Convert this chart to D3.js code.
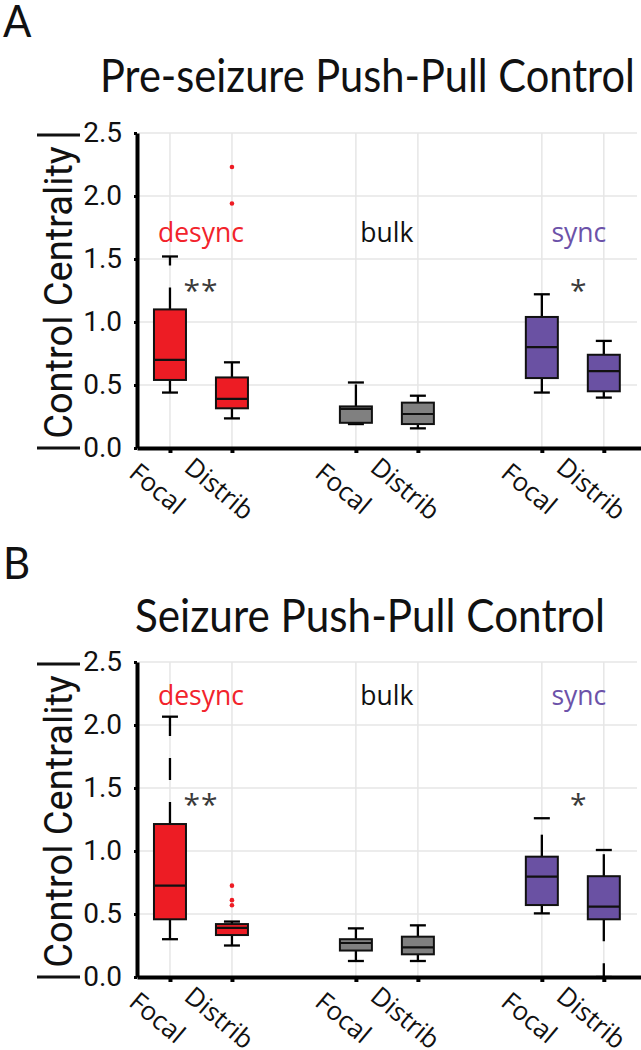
<!DOCTYPE html>
<html><head><meta charset="utf-8">
<script src="https://cdn.jsdelivr.net/npm/d3@7"></script>
<style>body{margin:0;background:#fff}</style>
</head><body><div id="chart"></div>
<script>
// ---------- data ----------
const categories = ["desync", "bulk", "sync"];
const groups = ["Focal", "Distrib"];
const yTicks = [0, 0.5, 1.0, 1.5, 2.0, 2.5];
const sigMarks = ["**", "", "*"];
// box order: desync-Focal, desync-Distrib, bulk-Focal, bulk-Distrib, sync-Focal, sync-Distrib
const preLow  = [0.44, 0.235, 0.19, 0.156, 0.44, 0.40];
const preQ1   = [0.54, 0.315, 0.20, 0.19, 0.555, 0.45];
const preMed  = [0.70, 0.39, 0.31, 0.27, 0.80, 0.61];
const preQ3   = [1.10, 0.56, 0.33, 0.36, 1.04, 0.74];
const preHigh = [1.52, 0.68, 0.52, 0.415, 1.22, 0.85];
const preOutliers = [[], [1.94, 2.23], [], [], [], []];

const szLow  = [0.30, 0.25, 0.127, 0.127, 0.505, 0.0];
const szQ1   = [0.458, 0.333, 0.21, 0.18, 0.571, 0.458];
const szMed  = [0.725, 0.39, 0.27, 0.235, 0.796, 0.558];
const szQ3   = [1.214, 0.42, 0.30, 0.32, 0.955, 0.80];
const szHigh = [2.066, 0.44, 0.386, 0.41, 1.26, 1.008];
const szOutliers = [[], [0.57, 0.61, 0.725], [], [], [], []];

const fillColors = ["#ed1c24", "#808080", "#6a51a3"];
const labelColors = ["#f2232b", "#111111", "#6c52a9"];

// ---------- drawing ----------
const W = 641, H = 1050;
const svg = d3.select("#chart").append("svg").attr("width", W).attr("height", H)
  .style("font-family", "Roboto, sans-serif");

const x = d3.scaleLinear().domain([0.468, 8.6]).range([137, 641]);
const slotOf = (ci, gi) => ci * 3 + gi + 1;

function fitText(sel, target, baseSize) {
  sel.style("font-size", baseSize + "px");
  const w = sel.node().getComputedTextLength();
  sel.style("font-size", (baseSize * target / w).toFixed(2) + "px");
}

function drawPanel(cfg) {
  const y = d3.scaleLinear().domain([0, 2.5]).range([cfg.yBottom, cfg.yTop]);
  const g = svg.append("g");

  // panel letter and title
  g.append("text").attr("transform", `translate(3,${cfg.letterBase}) scale(1,1.08)`)
    .style("font-family", "Lato, sans-serif").style("font-size", "42px").attr("fill", "#111")
    .text(cfg.letter);
  const t = g.append("text").attr("transform", `translate(${cfg.titleX},${cfg.titleBase}) scale(1,1.12)`)
    .style("font-family", "Lato, sans-serif").attr("fill", "#111")
    .text(cfg.title);
  fitText(t, cfg.titleW, 42);

  // grid
  const slots = [];
  categories.forEach((c, ci) => groups.forEach((gr, gi) => slots.push(slotOf(ci, gi))));
  g.append("g").selectAll("line").data(yTicks.filter(d => d > 0)).join("line")
    .attr("x1", 139).attr("x2", 637).attr("y1", d => y(d)).attr("y2", d => y(d))
    .attr("stroke", "#e6e6e6").attr("stroke-width", 1.5);
  g.append("g").selectAll("line").data(slots).join("line")
    .attr("x1", d => x(d)).attr("x2", d => x(d)).attr("y1", cfg.yTop).attr("y2", cfg.yBottom)
    .attr("stroke", "#e6e6e6").attr("stroke-width", 1.5);

  // boxes
  const boxes = [];
  categories.forEach((c, ci) => groups.forEach((gr, gi) => {
    const i = ci * 2 + gi;
    boxes.push({slot: slotOf(ci, gi), ci, low: cfg.low[i], q1: cfg.q1[i], med: cfg.med[i],
      q3: cfg.q3[i], high: cfg.high[i], out: cfg.out[i]});
  }));
  const bw = 32, cw = 16;
  const bg = g.append("g").selectAll("g").data(boxes).join("g");
  bg.append("line").attr("x1", d => x(d.slot)).attr("x2", d => x(d.slot))
    .attr("y1", d => y(d.q3)).attr("y2", d => y(d.high))
    .attr("stroke", "#000").attr("stroke-width", 2.3).attr("stroke-dasharray", "22,22");
  bg.append("line").attr("x1", d => x(d.slot)).attr("x2", d => x(d.slot))
    .attr("y1", d => y(d.q1)).attr("y2", d => y(d.low))
    .attr("stroke", "#000").attr("stroke-width", 2.3).attr("stroke-dasharray", "22,22");
  bg.append("line").attr("x1", d => x(d.slot) - cw / 2).attr("x2", d => x(d.slot) + cw / 2)
    .attr("y1", d => y(d.high)).attr("y2", d => y(d.high)).attr("stroke", "#000").attr("stroke-width", 2.3);
  bg.append("line").attr("x1", d => x(d.slot) - cw / 2).attr("x2", d => x(d.slot) + cw / 2)
    .attr("y1", d => y(d.low)).attr("y2", d => y(d.low)).attr("stroke", "#000").attr("stroke-width", 2.3);
  bg.append("rect").attr("x", d => x(d.slot) - bw / 2).attr("width", bw)
    .attr("y", d => y(d.q3)).attr("height", d => y(d.q1) - y(d.q3))
    .attr("fill", d => fillColors[d.ci]).attr("stroke", "#111").attr("stroke-width", 2);
  bg.append("line").attr("x1", d => x(d.slot) - bw / 2).attr("x2", d => x(d.slot) + bw / 2)
    .attr("y1", d => y(d.med)).attr("y2", d => y(d.med)).attr("stroke", "#111").attr("stroke-width", 2.2);
  bg.selectAll("circle").data(d => d.out.map(v => ({v, slot: d.slot}))).join("circle")
    .attr("cx", d => x(d.slot)).attr("cy", d => y(d.v)).attr("r", 2.3).attr("fill", "#ee1c24");

  // axes (drawn over the marks)
  const ya = g.append("g").attr("transform", `translate(137,0)`)
    .call(d3.axisLeft(y).tickValues(yTicks).tickFormat(d3.format(".1f")).tickSize(3).tickSizeOuter(0).tickPadding(12));
  ya.select(".domain").attr("stroke", "#000").attr("stroke-width", 4);
  ya.selectAll(".tick line").attr("stroke", "#000").attr("stroke-width", 3);
  ya.selectAll(".tick text").style("font-family", "Roboto, sans-serif").style("font-size", "28px").attr("fill", "#111");

  const xa = g.append("g").attr("transform", `translate(0,${cfg.yBottom})`)
    .call(d3.axisBottom(x).tickValues(slots).tickFormat("").tickSize(5).tickSizeOuter(0));
  xa.select(".domain").attr("stroke", "#000").attr("stroke-width", 4);
  xa.selectAll(".tick line").attr("stroke", "#000").attr("stroke-width", 4);

  // x labels
  const xl = [];
  categories.forEach((c, ci) => groups.forEach((gr, gi) => xl.push({slot: slotOf(ci, gi), label: gr})));
  g.append("g").selectAll("text").data(xl).join("text")
    .attr("transform", d => `translate(${x(d.slot) - 12},${cfg.yBottom + 40}) rotate(40)`)
    .attr("text-anchor", "middle").attr("dominant-baseline", "central")
    .style("font-family", "'Open Sans', sans-serif").style("font-size", "26px").attr("fill", "#111")
    .text(d => d.label);

  // y label with absolute-value bars
  const midY = (cfg.yTop + cfg.yBottom) / 2;
  g.append("text")
    .attr("transform", `translate(72,${midY + 2}) rotate(-90)`)
    .attr("text-anchor", "middle")
    .style("font-family", "Roboto, sans-serif").style("font-size", "38px").attr("fill", "#111")
    .text("Control Centrality");
  g.append("g").selectAll("line").data([cfg.yTop + 2, cfg.yBottom]).join("line")
    .attr("x1", 37).attr("x2", 80).attr("y1", d => d).attr("y2", d => d)
    .attr("stroke", "#111").attr("stroke-width", 3);

  // category labels
  g.append("g").selectAll("text").data(categories).join("text")
    .attr("x", (d, ci) => x(ci * 3 + 1.5) + (ci === 2 ? 6 : 0))
    .attr("y", y(cfg.labelY))
    .attr("text-anchor", "middle")
    .style("font-family", "'Open Sans', sans-serif").style("font-size", "26.5px")
    .attr("fill", (d, ci) => labelColors[ci])
    .text(d => d);

  // significance marks
  g.append("g").selectAll("text").data(sigMarks).join("text")
    .attr("x", (d, ci) => x(ci * 3 + 1.5) + (ci === 2 ? 6 : 0))
    .attr("y", y(cfg.sigY) + 17)
    .attr("text-anchor", "middle")
    .style("font-family", "'Open Sans', sans-serif").style("font-size", "30px").attr("fill", "#3a3a3a")
    .attr("letter-spacing", "1px")
    .text(d => d);
}

drawPanel({letter: "A", letterBase: 37, title: "Pre-seizure Push-Pull Control",
  titleX: 100, titleW: 535, titleBase: 92, yTop: 133, yBottom: 448,
  low: preLow, q1: preQ1, med: preMed, q3: preQ3, high: preHigh, out: preOutliers,
  labelY: 1.635, sigY: 1.30});
drawPanel({letter: "B", letterBase: 579, title: "Seizure Push-Pull Control",
  titleX: 135, titleW: 470, titleBase: 632, yTop: 662, yBottom: 977,
  low: szLow, q1: szQ1, med: szMed, q3: szQ3, high: szHigh, out: szOutliers,
  labelY: 2.16, sigY: 1.42});
</script></body></html>
